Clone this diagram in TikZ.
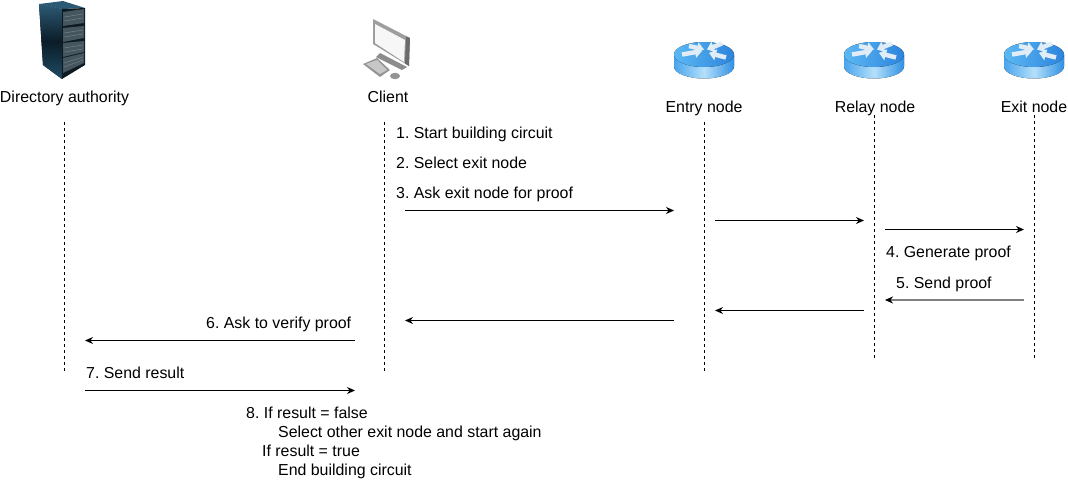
\documentclass[tikz,border=0pt]{standalone}
\usepackage{fontspec}
\setmainfont{Liberation Sans}
\usetikzlibrary{arrows.meta}
\definecolor{rtop}{HTML}{5CB8F4}
\definecolor{rtopd}{HTML}{2C84DC}
\definecolor{rside}{HTML}{48A4EE}
\definecolor{rsidel}{HTML}{B4E0FA}
\definecolor{rsided}{HTML}{3090E4}
\definecolor{rarrow}{HTML}{E0ECF6}
\definecolor{srvtop}{HTML}{2C5A74}
\definecolor{srvmid}{HTML}{0B1C28}
\definecolor{srvlow}{HTML}{1F4C64}
\definecolor{srvface}{HTML}{0E1A22}
\definecolor{srvrack}{HTML}{46565F}
\definecolor{srvline}{HTML}{6B7C85}
\tikzset{
  x=1pt,y=-1pt,
  lbl/.style={font=\fontsize{15.9}{19}\selectfont,text=black,inner sep=0pt},
  txt/.style={lbl,anchor=base west},
  head/.style={lbl,anchor=base},
  life/.style={draw=black,line width=0.9pt,dash pattern=on 3pt off 3pt},
  msg/.style={draw=black,line width=1pt,-{Stealth[length=8pt,width=7pt]}},
  msggray/.style={draw=black!50,line width=2.2pt,-{Stealth[length=8pt,width=7pt,color=black]}},
  rarr/.style={draw=rarrow,line width=4.5pt,-{Triangle[length=7pt,width=11pt]}},
  rackbox/.style={fill=srvrack},
  rackline/.style={draw=srvline,line width=0.6pt},
  routericon/.pic={
    \fill[left color=rside,right color=rsided,middle color=rsidel] (-30,0) -- (-30,12) arc[start angle=180,end angle=0,x radius=30,y radius=12] -- (30,0) -- cycle;
    \fill[left color=rtop,right color=rtopd] (0,0) ellipse[x radius=30,y radius=12.5];
    \draw[rarr] (-15,-8.5) -- (0,-5);
    \draw[rarr] (-22,0) -- (-2,-3.5);
    \draw[rarr] (18,-11) -- (3,-5);
    \draw[rarr] (22,3) -- (5,-1.5);
  }
}
\begin{document}
\frenchspacing
\begin{tikzpicture}
\useasboundingbox (0,0) rectangle (1068,480);
% server icon
\fill[top color=srvtop,bottom color=srvlow,middle color=srvmid] (39,4) -- (62,9) -- (62,79) -- (43,65) -- cycle;
\fill[srvtop] (39,4) -- (63,1) -- (85,8) -- (62,9) -- cycle;
\fill[srvface] (62,9) -- (85,8) -- (85,65) -- (62,79) -- cycle;
\fill[rackbox] (63,12) -- (84,9) -- (84,23) -- (63,26) -- cycle;
\fill[rackbox] (63,28) -- (84,26) -- (84,38) -- (63,42) -- cycle;
\fill[rackbox] (63,43) -- (84,41) -- (84,52) -- (63,57) -- cycle;
\fill[rackbox] (63,58) -- (84,53) -- (84,63) -- (63,73) -- cycle;
\draw[rackline] (64,17) -- (83,14) (64,21) -- (83,18);
\draw[rackline] (64,33) -- (83,30) (64,37) -- (83,34);
\draw[rackline] (64,48) -- (83,45) (64,52) -- (83,49);
\draw[rackline] (64,63) -- (83,57) (64,67) -- (83,60);
% client icon
\fill[black!45] (376,57) -- (380,53) -- (407,67) -- (402,70) -- cycle;
\fill[black!38] (373,19) -- (410,38) -- (409,66) -- (373,44) -- cycle;
\fill[black!58] (406,36.5) -- (410,38) -- (409,66) -- (405,63.5) -- cycle;
\fill[black!3] (375,24) -- (405,40) -- (404,62) -- (375,43) -- cycle;
\fill[black!42] (363,64) -- (377,58) -- (390,70) -- (380,77) -- cycle;
\fill[black!22] (366,64) -- (377,60) -- (387,70) -- (380,74) -- cycle;
\fill[black!42] (395,76) ellipse[x radius=5,y radius=3.2];
% routers
\pic at (704,54.5) {routericon};
\pic at (874,54.5) {routericon};
\pic at (1034,54.5) {routericon};
% headings
\node[head] (da) at (64.5,102) {Directory authority};
\node[head] (cl) at (388,102) {Client};
\node[head] (en) at (704,112) {Entry node};
\node[head] (re) at (875,112) {Relay node};
\node[head] (ex) at (1034,112) {Exit node};
% lifelines
\coordinate (da1) at (64.5,122); \coordinate (da2) at (64.5,371);
\coordinate (cl1) at (384.5,122); \coordinate (cl2) at (384.5,371);
\coordinate (en1) at (704.5,122); \coordinate (en2) at (704.5,371);
\coordinate (re1) at (874.5,115); \coordinate (re2) at (874.5,360);
\coordinate (ex1) at (1034.5,115); \coordinate (ex2) at (1034.5,360);
\draw[life] (da1) -- (da2);
\draw[life] (cl1) -- (cl2);
\draw[life] (en1) -- (en2);
\draw[life] (re1) -- (re2);
\draw[life] (ex1) -- (ex2);
% messages
\coordinate (m1a) at (405,210.5); \coordinate (m1b) at (674,210.5);
\coordinate (m2a) at (715,220.5); \coordinate (m2b) at (864,220.5);
\coordinate (m3a) at (885,229.5); \coordinate (m3b) at (1024,229.5);
\coordinate (m4a) at (1024,300); \coordinate (m4b) at (885,300);
\coordinate (m5a) at (864,310.5); \coordinate (m5b) at (715,310.5);
\coordinate (m6a) at (674,320.5); \coordinate (m6b) at (405,320.5);
\coordinate (m7a) at (355,340.5); \coordinate (m7b) at (85,340.5);
\coordinate (m8a) at (85,390.5); \coordinate (m8b) at (355,390.5);
\draw[msg] (m1a) -- (m1b);
\draw[msg] (m2a) -- (m2b);
\draw[msg] (m3a) -- (m3b);
\draw[msggray] (m4a) -- (m4b);
\draw[msg] (m5a) -- (m5b);
\draw[msg] (m6a) -- (m6b);
\draw[msg] (m7a) -- (m7b);
\draw[msg] (m8a) -- (m8b);
% texts
\node[txt] (t1) at (396,138) {1. Start building circuit};
\node[txt] (t2) at (396,168) {2. Select exit node};
\node[txt] (t3) at (396,198) {3. Ask exit node for proof};
\node[txt] (t4) at (886,257) {4. Generate proof};
\node[txt] (t5) at (896,288) {5. Send proof};
\node[txt] (t6) at (206,328) {6. Ask to verify proof};
\node[txt] (t7) at (86,378) {7. Send result};
\node[txt] (t8) at (246,418) {8. If result = false};
\node[txt] (t9) at (278,437) {Select other exit node and start again};
\node[txt] (t10) at (262,456) {If result = true};
\node[txt] (t11) at (278,475) {End building circuit};
\end{tikzpicture}
\end{document}
